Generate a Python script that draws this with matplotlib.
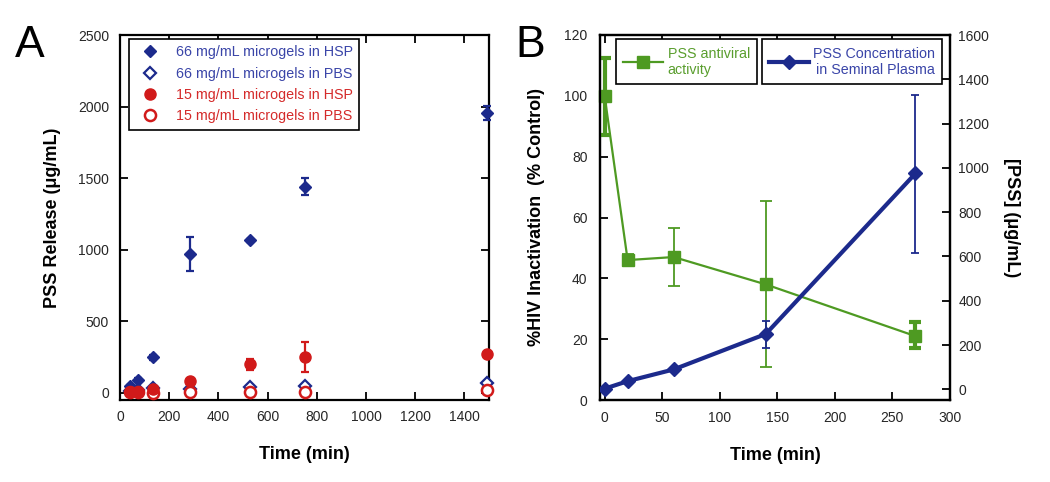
import matplotlib
matplotlib.use("Agg")
import matplotlib.pyplot as plt
import numpy as np

plt.rcParams['font.family'] = ['Liberation Sans', 'DejaVu Sans']

# ---------------- Panel A data ----------------
t_a = [40, 72, 134, 285, 530, 751, 1491]
hsp66 = [49, 93, 247, 972, 1065, 1441, 1955]
hsp66_err = [8, 8, 15, 118, 8, 58, 50]
pbs66 = [14, 19, 33, 26, 43, 47, 72]
hsp15 = [7, 8, 26, 84, 200, 251, 268]
hsp15_err = [5, 5, 8, 10, 38, 105, 8]
pbs15 = [3, 3, 0, 3, 3, 7, 18]
labels_a = ['66 mg/mL microgels in HSP', '66 mg/mL microgels in PBS',
            '15 mg/mL microgels in HSP', '15 mg/mL microgels in PBS']
xticks_a = [0, 200, 400, 600, 800, 1000, 1200, 1400]
yticks_a = [0, 500, 1000, 1500, 2000, 2500]

# ---------------- Panel B data ----------------
t_b = [0, 20, 60, 140, 270]
activity = [100, 46, 47, 38, 21]
activity_lo = [87, 44, 37.5, 11, 17]
activity_hi = [112.5, 48, 56.5, 65.5, 25.5]
conc = [3, 37, 90, 250, 975]
conc_lo = [3, 37, 90, 185, 617]
conc_hi = [3, 37, 90, 308, 1331]
labels_b = ['PSS antiviral\nactivity', 'PSS Concentration\nin Seminal Plasma']
xticks_b = [0, 50, 100, 150, 200, 250, 300]
yticks_b = [0, 20, 40, 60, 80, 100, 120]
yticks_b2 = [0, 200, 400, 600, 800, 1000, 1200, 1400, 1600]

BLUE = '#1c2a8c'
BLUE_T = '#3a45a8'
RED = '#d11a1a'
RED_T = '#d42a2a'
GREEN = '#4e9a22'
GREEN_T = '#5a9e2e'
TICKC = '#262626'

fig = plt.figure(figsize=(10.5, 4.82), dpi=100)
W, H = 1050, 482

def ax_rect(l, r, t, b):
    return [l / W, 1 - b / H, (r - l) / W, (b - t) / H]

def style(ax, pad_x, pad_y, right=True):
    ax.tick_params(direction='in', length=6, width=1.3, top=True, right=right,
                   labelsize=10, labelcolor=TICKC, color='black')
    ax.tick_params(axis='x', pad=pad_x)
    ax.tick_params(axis='y', pad=pad_y)
    for s in ax.spines.values():
        s.set_linewidth(1.6)

def unclip(container):
    for art in container.get_children():
        art.set_clip_on(False)

# ---------------- Panel A ----------------
axA = fig.add_axes(ax_rect(120, 489, 35, 400))
style(axA, 7, 8)
e66 = axA.errorbar(t_a, hsp66, yerr=hsp66_err, fmt='D', color=BLUE, ms=6,
                   elinewidth=1.6, capsize=3, capthick=1.6, zorder=3)
unclip(e66)
p66, = axA.plot(t_a, pbs66, 'D', mfc='white', mec=BLUE, mew=1.6, ms=6,
                zorder=3, clip_on=False)
e15 = axA.errorbar(t_a, hsp15, yerr=hsp15_err, fmt='o', color=RED, ms=8,
                   elinewidth=1.6, capsize=3, capthick=1.6, zorder=4)
unclip(e15)
p15, = axA.plot(t_a, pbs15, 'o', mfc='white', mec=RED, mew=1.8, ms=8,
                zorder=4, clip_on=False)
axA.set_xlim(0, 1500)
axA.set_ylim(-50, 2500)
axA.set_xticks(xticks_a)
axA.set_yticks(yticks_a)
axA.set_xlabel('Time (min)', fontsize=13, fontweight='bold', labelpad=16)
axA.set_ylabel('PSS Release (μg/mL)', fontsize=13, fontweight='bold', labelpad=12)

legA = axA.legend([e66[0], p66, e15[0], p15], labels_a, loc='upper left',
                  bbox_to_anchor=(0.025, 0.99),
                  borderaxespad=0, fontsize=10.3, frameon=True, fancybox=False,
                  edgecolor='black', handletextpad=0.8, handlelength=2.0,
                  labelspacing=0.52, borderpad=0.45, framealpha=1)
legA.get_frame().set_linewidth(1.2)
for txt, c in zip(legA.get_texts(), [BLUE_T, BLUE_T, RED_T, RED_T]):
    txt.set_color(c)

fig.text(15 / W, 1 - 57 / H, 'A', fontsize=32, ha='left', va='baseline')

# ---------------- Panel B ----------------
axB = fig.add_axes(ax_rect(600, 950, 35, 400))
style(axB, 8, 9, right=False)
axB2 = axB.twinx()
axB2.tick_params(direction='in', length=6, width=1.3, labelsize=10,
                 labelcolor=TICKC, pad=6)

act = np.array(activity)
err_act = [act - np.array(activity_lo), np.array(activity_hi) - act]
lg, = axB.plot(t_b, activity, '-s', color=GREEN, lw=1.6, ms=8, zorder=3,
               clip_on=False)
eg = axB.errorbar(t_b, activity, yerr=err_act, fmt='none', ecolor=GREEN,
                  elinewidth=1.3, capsize=4, capthick=1.3, zorder=3)
unclip(eg)
eg2 = axB.errorbar(t_b[::4], activity[::4], yerr=[e[::4] for e in err_act],
                   fmt='none', ecolor=GREEN, elinewidth=3, capsize=4,
                   capthick=3, zorder=3)
unclip(eg2)
axB.set_xlim(-4, 300)
axB.set_ylim(0, 120)
axB.set_xticks(xticks_b)
axB.set_yticks(yticks_b)
axB.set_xlabel('Time (min)', fontsize=13, fontweight='bold', labelpad=16)
axB.set_ylabel('%HIV Inactivation  (% Control)', fontsize=13, fontweight='bold',
               labelpad=14)

cc = np.array(conc)
err_c = [cc - np.array(conc_lo), np.array(conc_hi) - cc]
lb, = axB2.plot(t_b, conc, '-D', color=BLUE, lw=3, ms=7, zorder=3)
eb = axB2.errorbar(t_b, conc, yerr=err_c, fmt='none', ecolor=BLUE,
                   elinewidth=1.3, capsize=3, capthick=1.3, zorder=3)
axB2.set_ylim(-48, 1600)
axB2.set_yticks(yticks_b2)
axB2.set_ylabel('[PSS] (μg/mL)', fontsize=13, fontweight='bold', rotation=270,
                labelpad=22)
for s in axB2.spines.values():
    s.set_linewidth(1.6)

leg1 = axB2.legend([lg], [labels_b[0]], loc='upper left',
                   bbox_to_anchor=(0.046, 0.988), borderaxespad=0, fontsize=10.3,
                   fancybox=False, edgecolor='black', handlelength=2.8,
                   handletextpad=0.3, borderpad=0.5, labelspacing=0.2,
                   framealpha=1)
leg1.get_frame().set_linewidth(1.2)
leg1.get_texts()[0].set_color(GREEN_T)
axB2.add_artist(leg1)
leg2 = axB2.legend([lb], [labels_b[1]], loc='upper right',
                   bbox_to_anchor=(0.978, 0.988), borderaxespad=0, fontsize=10.3,
                   fancybox=False, edgecolor='black', handlelength=2.8,
                   handletextpad=0.3, borderpad=0.5, labelspacing=0.2,
                   framealpha=1)
leg2.get_frame().set_linewidth(1.2)
leg2.get_texts()[0].set_color(BLUE_T)
leg2.get_texts()[0].set_multialignment('right')

fig.text(515 / W, 1 - 57 / H, 'B', fontsize=32, ha='left', va='baseline')

fig.savefig('out.png', dpi=100, facecolor='white')
